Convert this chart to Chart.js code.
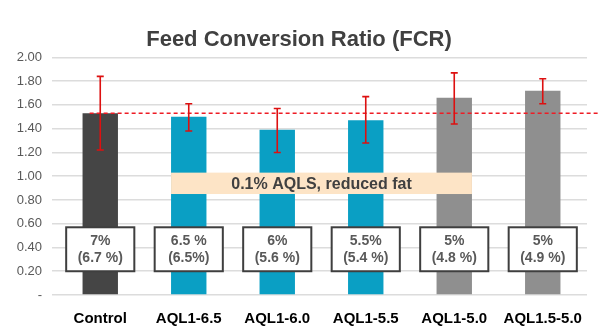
<!DOCTYPE html>
<html>
<head>
<meta charset="utf-8">
<script src="https://cdn.jsdelivr.net/npm/chart.js@4.4.1/dist/chart.umd.min.js"></script>
<style>
  html, body { margin: 0; padding: 0; background: #ffffff; }
  #wrap { width: 598px; height: 336px; }
</style>
</head>
<body>
<div id="wrap"><canvas id="fcr_chart" width="598" height="336"></canvas></div>
<script>
// treatments and FCR results
var categories = ['Control', 'AQL1-6.5', 'AQL1-6.0', 'AQL1-5.5', 'AQL1-5.0', 'AQL1.5-5.0'];
var fcr = [1.53, 1.50, 1.39, 1.47, 1.66, 1.72];
var errLow = [1.22, 1.38, 1.20, 1.28, 1.44, 1.61];
var errHigh = [1.84, 1.61, 1.57, 1.67, 1.87, 1.82];
var barColors = ['#454545', '#0a9fc4', '#0a9fc4', '#0a9fc4', '#8f8f8f', '#8f8f8f'];
// fat level: target and analysed
var fatTarget = ['7%', '6.5 %', '6%', '5.5%', '5%', '5%'];
var fatActual = ['(6.7 %)', '(6.5%)', '(5.6 %)', '(5.4 %)', '(4.8 %)', '(4.9 %)'];
var bandLabel = '0.1% AQLS, reduced fat';
var bandFrom = 1, bandTo = 4;       // categories covered by the band
var bandRange = [0.85, 1.03];
var boxRange = [0.20, 0.57];
var controlLine = fcr[0];
var yTicks = [0, 0.2, 0.4, 0.6, 0.8, 1.0, 1.2, 1.4, 1.6, 1.8, 2.0];

var overlays = {
	id: 'overlays',
	afterDatasetsDraw: function(chart) {
		var ctx = chart.ctx;
		var x = chart.scales.x, y = chart.scales.y;
		var step = x.getPixelForValue(1) - x.getPixelForValue(0);
		var half = step * 0.2;
		ctx.save();

		// peach band over the reduced fat groups
		var bx0 = x.getPixelForValue(bandFrom) - half;
		var bx1 = x.getPixelForValue(bandTo) + half;
		var by0 = y.getPixelForValue(bandRange[1]);
		var by1 = y.getPixelForValue(bandRange[0]);
		ctx.fillStyle = '#fde4c6';
		ctx.fillRect(bx0, by0, bx1 - bx0, by1 - by0);
		ctx.fillStyle = '#404040';
		ctx.font = 'bold 16px "Liberation Sans", Arial, sans-serif';
		ctx.textAlign = 'center';
		ctx.textBaseline = 'middle';
		ctx.fillText(bandLabel, (bx0 + bx1) / 2, (by0 + by1) / 2 + 1);

		// fat level boxes
		var ty0 = y.getPixelForValue(boxRange[1]);
		var ty1 = y.getPixelForValue(boxRange[0]);
		var tw = step * 0.77;
		for (var i = 0; i < categories.length; i++) {
			var cx = x.getPixelForValue(i);
			ctx.fillStyle = '#ffffff';
			ctx.fillRect(cx - tw / 2, ty0, tw, ty1 - ty0);
			ctx.strokeStyle = '#3f3f3f';
			ctx.lineWidth = 2;
			ctx.strokeRect(cx - tw / 2, ty0, tw, ty1 - ty0);
			ctx.fillStyle = '#595959';
			ctx.font = 'bold 14px "Liberation Sans", Arial, sans-serif';
			var mid = (ty0 + ty1) / 2;
			ctx.fillText(fatTarget[i], cx, mid - 8.5);
			ctx.fillText(fatActual[i], cx, mid + 9);
		}

		// control reference line
		var ly = y.getPixelForValue(controlLine);
		ctx.strokeStyle = '#ee1c25';
		ctx.lineWidth = 1.3;
		ctx.setLineDash([4, 3]);
		ctx.beginPath();
		ctx.moveTo(x.getPixelForValue(-0.12), ly);
		ctx.lineTo(chart.width, ly);
		ctx.stroke();
		ctx.setLineDash([]);

		// error bars
		ctx.strokeStyle = '#dd1010';
		ctx.lineWidth = 1.6;
		for (var j = 0; j < categories.length; j++) {
			var ex = x.getPixelForValue(j);
			var yh = y.getPixelForValue(errHigh[j]);
			var yl = y.getPixelForValue(errLow[j]);
			ctx.beginPath();
			ctx.moveTo(ex, yh);
			ctx.lineTo(ex, yl);
			ctx.moveTo(ex - 3.5, yh);
			ctx.lineTo(ex + 3.5, yh);
			ctx.moveTo(ex - 3.5, yl);
			ctx.lineTo(ex + 3.5, yl);
			ctx.stroke();
		}
		ctx.restore();
	}
};

var context = document.getElementById('fcr_chart').getContext('2d');
var fcr_chart = new Chart(context, {
	type: 'bar',
	data: {
		labels: categories,
		datasets: [{
			label: 'FCR',
			data: fcr,
			backgroundColor: barColors,
			barPercentage: 0.4,
			categoryPercentage: 1.0
		}]
	},
	options: {
		responsive: false,
		animation: false,
		layout: { padding: { left: 11, right: 11, top: 0, bottom: 0 } },
		plugins: {
			legend: { display: false },
			tooltip: { enabled: false },
			title: {
				display: true,
				text: 'Feed Conversion Ratio (FCR)',
				color: '#404040',
				font: { family: '"Liberation Sans", Arial, sans-serif', size: 22, weight: 'bold' },
				padding: { top: 27, bottom: 4 }
			}
		},
		scales: {
			x: {
				afterFit: function(scale) { scale.height = 41; },
				grid: { display: false, drawTicks: false },
				border: { display: false },
				ticks: {
					color: '#000000',
					padding: 15,
					font: { family: '"Liberation Sans", Arial, sans-serif', size: 15, weight: 'bold' }
				}
			},
			y: {
				min: 0,
				max: 2,
				afterFit: function(scale) { scale.width = 45; },
				afterBuildTicks: function(scale) {
					scale.ticks = yTicks.map(function(v) { return { value: v }; });
				},
				grid: { color: '#dcdcdc', lineWidth: 1.5, tickLength: 4 },
				border: { display: false },
				ticks: {
					color: '#595959',
					padding: 10,
					font: { family: '"Liberation Sans", Arial, sans-serif', size: 13 },
					callback: function(v) { return v === 0 ? '-' : v.toFixed(2); }
				}
			}
		}
	},
	plugins: [overlays]
});
</script>
</body>
</html>
